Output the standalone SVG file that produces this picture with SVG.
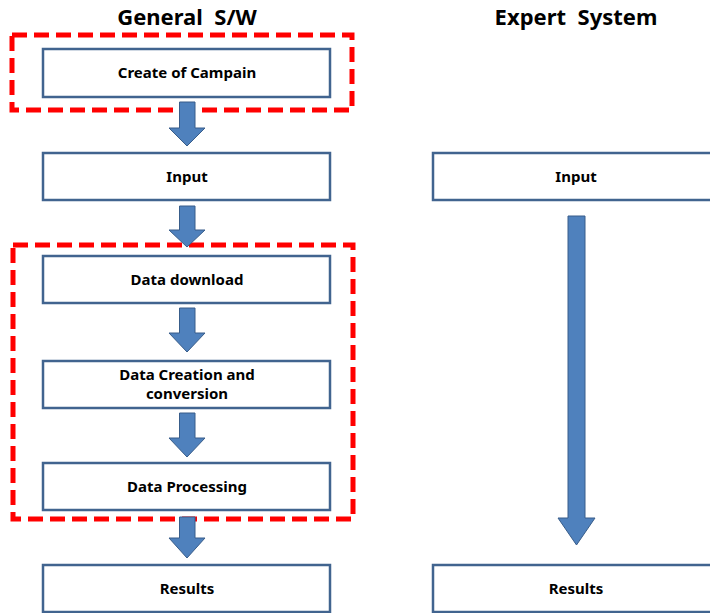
<svg xmlns="http://www.w3.org/2000/svg" width="710" height="613" viewBox="0 0 710 613">
<style>
.box{fill:#fff;stroke:#41648f;stroke-width:2.5}
.lbl{font-family:"Noto Sans","Liberation Sans",sans-serif;font-weight:bold;font-size:15px;fill:#000;text-anchor:middle}
.title{font-family:"Noto Sans","Liberation Sans",sans-serif;font-weight:bold;font-size:22px;fill:#000;text-anchor:middle;white-space:pre}
.red{fill:none;stroke:#ff0000;stroke-width:5;stroke-dasharray:15,7}
.arr{fill:#4f81bd;stroke:#385d8a;stroke-width:1}
</style>
<rect width="710" height="613" fill="#fff"/>
<text class="title" x="187" y="25" xml:space="preserve">General  S/W</text>
<text class="title" x="576" y="25" xml:space="preserve">Expert  System</text>
<g id="n1"><rect class="box" x="43" y="49" width="287" height="48"/><text class="lbl" x="187" y="78">Create of Campain</text></g>
<g id="n2"><rect class="box" x="43" y="153" width="287" height="47"/><text class="lbl" x="187" y="182">Input</text></g>
<g id="n3"><rect class="box" x="43" y="256" width="287" height="47"/><text class="lbl" x="187" y="285">Data download</text></g>
<g id="n4"><rect class="box" x="43" y="361" width="287" height="47"/><text class="lbl" x="187" y="380">Data Creation and</text><text class="lbl" x="187" y="399">conversion</text></g>
<g id="n5"><rect class="box" x="43" y="463" width="287" height="47"/><text class="lbl" x="187" y="492">Data Processing</text></g>
<g id="n6"><rect class="box" x="43" y="565" width="287" height="47"/><text class="lbl" x="187" y="594">Results</text></g>
<g id="n7"><rect class="box" x="433" y="153" width="290" height="47"/><text class="lbl" x="576" y="182">Input</text></g>
<g id="n8"><rect class="box" x="433" y="565" width="290" height="47"/><text class="lbl" x="576" y="594">Results</text></g>
<g id="groups">
<rect class="red" x="12" y="35" width="340" height="75"/>
<rect class="red" x="13" y="245" width="340" height="274"/>
</g>
<g id="connectors">
<path class="arr" d="M179.5,102 H195 V128 H205 L187,146 L169,128 H179.5 Z"/>
<path class="arr" d="M179.5,206 H195 V230 H205 L187,247 L169,230 H179.5 Z"/>
<path class="arr" d="M179.5,308 H195 V333 H205 L187,352 L169,333 H179.5 Z"/>
<path class="arr" d="M179.5,413 H195 V438 H205 L187,457 L169,438 H179.5 Z"/>
<path class="arr" d="M179.5,517 H195 V538 H205 L187,558 L169,538 H179.5 Z"/>
<path class="arr" d="M568,216 H585 V518 H595 L576.5,545 L558,518 H568 Z"/>
</g>
</svg>
